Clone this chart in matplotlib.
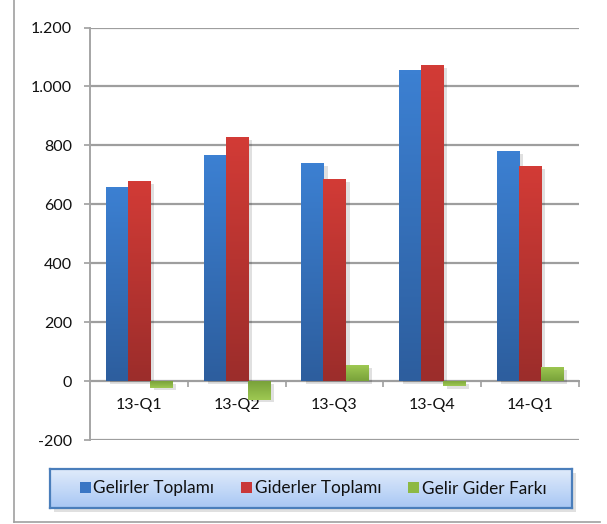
import matplotlib
matplotlib.use("Agg")
import matplotlib.pyplot as plt
import numpy as np
from matplotlib import patheffects
from matplotlib.colors import LinearSegmentedColormap
from matplotlib.lines import Line2D
from matplotlib.patches import Patch, Rectangle
from matplotlib.ticker import FuncFormatter, FixedLocator

plt.rcParams["font.family"] = ["Lato", "DejaVu Sans"]

quarters = ["13-Q1", "13-Q2", "13-Q3", "13-Q4", "14-Q1"]
gelirler = [658, 767, 740, 1055, 780]
giderler = [679, 829, 686, 1072, 729]
fark = [-22, -63, 53, -18, 48]
series_names = ["Gelirler Toplamı", "Giderler Toplamı", "Gelir Gider Farkı"]
yticks = [-200, 0, 200, 400, 600, 800, 1000, 1200]

# (base colour, tip colour) for the vertical gradient of each series
shades = [("#2D5E9E", "#3C80D2"), ("#9C2D2B", "#D23B36"), ("#79A23A", "#9EC852")]
legend_colors = ["#3A76C4", "#C9383A", "#8DB944"]

W, H = 607, 524
fig = plt.figure(figsize=(W / 100, H / 100), dpi=100)
ax = fig.add_axes([90 / W, 1 - 440 / H, (579 - 90) / W, (440 - 27.5) / H])

x = np.arange(len(quarters))
bw = 0.225
offsets = [-bw, 0, bw]
shadow = [patheffects.SimplePatchShadow(offset=(3, -2), shadow_rgbFace="#000000", alpha=0.12),
          patheffects.Normal()]

for values, off, (c_base, c_tip) in zip([gelirler, giderler, fark], offsets, shades):
    bars = ax.bar(x + off, values, width=bw, color=c_base, zorder=2, linewidth=0)
    cmap = LinearSegmentedColormap.from_list("g", [c_base, c_tip])
    for b, v in zip(bars, values):
        b.set_path_effects(shadow)
        grad = np.linspace(0, 1, 64).reshape(-1, 1)
        if v < 0:
            grad = grad[::-1]
        x0 = b.get_x()
        y0, y1 = sorted([0, v])
        im = ax.imshow(grad, cmap=cmap, aspect="auto", origin="lower",
                       extent=(x0, x0 + bw, y0, y1), zorder=3, interpolation="bilinear")
        im.set_clip_path(b)

ax.set_xlim(-0.5, len(quarters) - 0.5)
ax.set_ylim(-200, 1200)
ax.set_yticks(yticks)
ax.yaxis.set_major_formatter(FuncFormatter(lambda v, _: f"{v:,.0f}".replace(",", ".")))
ax.yaxis.grid(True, color="#9E9E9E", linewidth=1.6, zorder=0)
ax.set_axisbelow(True)

ax.set_xticks(x)
ax.set_xticklabels(quarters)
ax.xaxis.set_minor_locator(FixedLocator(np.arange(len(quarters)) + 0.5))

for side in ["top", "right"]:
    ax.spines[side].set_visible(False)
ax.spines["bottom"].set_position(("data", 0))
ax.spines["bottom"].set_color("#9E9E9E")
ax.spines["bottom"].set_linewidth(1.4)
ax.spines["bottom"].set_zorder(1)
ax.spines["left"].set_color("#A5A5A5")
ax.spines["left"].set_linewidth(1.4)

ax.tick_params(axis="y", length=4, width=1.2, color="#9E9E9E", pad=9,
               labelsize=11.5, labelcolor="#111111")
ax.tick_params(axis="x", which="major", length=0, pad=12, labelsize=11.5, labelcolor="#111111")
ax.tick_params(axis="x", which="minor", length=4, width=1.2, color="#9E9E9E", direction="out")

# legend box with gradient fill and shadow
lx0, lx1, ly0, ly1 = 50, 572, 469, 508
fig.patches.append(Rectangle((lx0 / W + 4 / W, 1 - ly1 / H - 4 / H), (lx1 - lx0) / W, (ly1 - ly0) / H,
                             transform=fig.transFigure, facecolor="#000000", alpha=0.12,
                             edgecolor="none", zorder=1))
lax = fig.add_axes([lx0 / W, 1 - ly1 / H, (lx1 - lx0) / W, (ly1 - ly0) / H], zorder=2)
lcmap = LinearSegmentedColormap.from_list("lg", ["#A8C7F4", "#E0EBFB"])
lax.imshow(np.linspace(0, 1, 64).reshape(-1, 1), cmap=lcmap, aspect="auto",
           origin="lower", extent=(0, 1, 0, 1))
lax.set_xticks([])
lax.set_yticks([])
for s in lax.spines.values():
    s.set_color("#4A7EBB")
    s.set_linewidth(1.6)

handles = [Patch(facecolor=c, edgecolor="none") for c in legend_colors]
leg = fig.legend(handles, series_names, loc="center", ncol=3, frameon=False,
                 bbox_to_anchor=(313 / W, 1 - (ly0 + ly1) / 2 / H),
                 fontsize=12.4, handlelength=0.65, handleheight=0.65, handletextpad=0.15,
                 columnspacing=1.55)
leg.set_zorder(5)
for t in leg.get_texts():
    t.set_color("#111111")

# outer chart border (left and bottom edges visible)
fig.add_artist(Line2D([13.5 / W, 13.5 / W], [1 - 522 / H, 1], transform=fig.transFigure,
                      color="#A0A0A0", linewidth=1.2))
fig.add_artist(Line2D([13.5 / W, 600 / W], [1 - 522 / H, 1 - 522 / H], transform=fig.transFigure,
                      color="#A0A0A0", linewidth=1.2))

fig.savefig("out.png", dpi=100)
